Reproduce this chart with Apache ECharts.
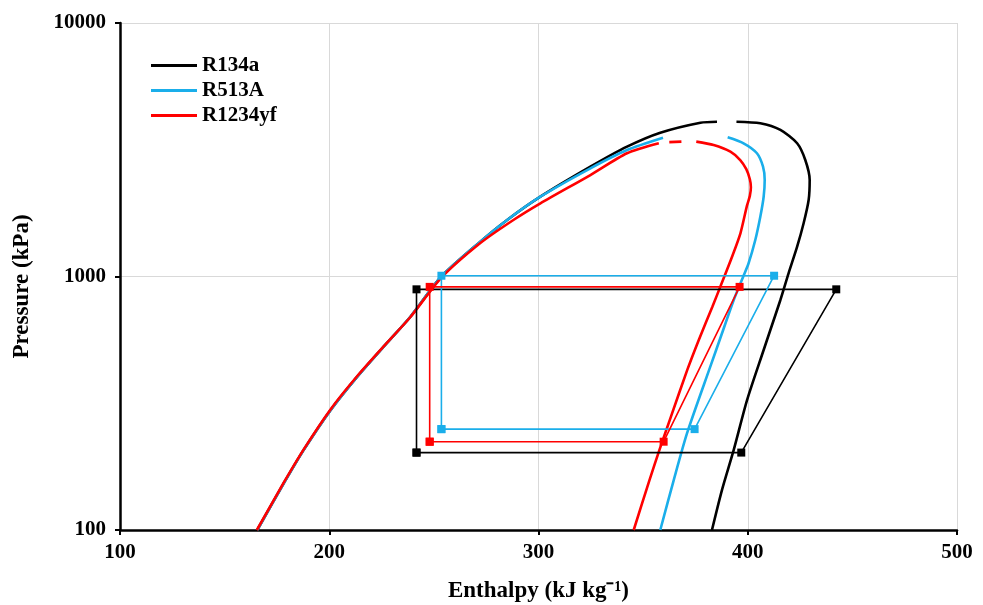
<!DOCTYPE html>
<html>
<head>
<meta charset="utf-8">
<script src="https://cdn.jsdelivr.net/npm/echarts@6/dist/echarts.min.js"></script>
<style>
html, body { margin: 0; padding: 0; background: #fff; }
#chart { width: 983px; height: 605px; }
</style>
</head>
<body>
<div id="chart"></div>
<script>
// saturation lines, [enthalpy kJ/kg, pressure kPa]
var r134aLiquid = [[165.6,100],[178.3,153],[187.8,207],[200.6,297],[213.3,402],[226,529],[238.8,694],[253.6,1000],[272.2,1372],[285,1671],[300.9,2065],[324.8,2711],[342.3,3252],[358.2,3692],[377.4,4044],[385.3,4080]];
var r134aVapour = [[394.6,4080],[406.0,4021],[415.6,3785],[423.6,3354],[427.5,2882],[429.6,2403],[429.1,2003],[426.7,1622],[423.6,1311],[419.5,1029],[415.6,808],[410.8,615],[407.6,513],[399.7,326],[393.3,207],[387.7,144],[382.9,100]];

var r513aLiquid = [[165.6,100],[178.3,153],[187.8,207],[200.6,297],[213.3,402],[226,529],[238.8,694],[253.6,1000],[272.2,1372],[285,1671],[300.9,2065],[324.8,2672],[342.3,3155],[359.5,3528]];
var r513aVapour = [[390.4,3540],[398.0,3354],[404.4,3063],[407.3,2711],[408.1,2403],[407.6,2064],[406.0,1721],[403.6,1393],[400.4,1128],[398.0,1007],[393.3,808],[387.7,597],[382.1,441],[371.0,241],[364.6,157],[358.2,100]];

var r1234yfLiquid = [[165.4,100],[178.3,154],[187.8,208],[200.6,299],[213.3,404],[226,530],[238.8,692],[253.6,990],[272.2,1355],[288,1671],[300.9,1944],[324.8,2514],[342.3,3063],[357.5,3354],'-',[362.5,3390],[368.3,3404]];
var r1234yfVapour = [[375.4,3404],[383.7,3301],[391.7,3107],[396.4,2880],[399.3,2650],[401.0,2420],[401.5,2250],[401.0,2080],[399.6,1900],[396.5,1481],[392.5,1197],[387.4,934],[383.1,760],[376.6,562],[371.1,428],[363.3,280],[357.8,207],[353.0,157],[345.5,100]];

// refrigeration cycles
var r134aCycle = [[241.7,202],[396.9,202],[442.3,890],[241.7,890],[241.7,202]];
var r513aCycle = [[253.6,250],[374.6,250],[412.6,1007],[253.6,1007],[253.6,250]];
var r1234yfCycle = [[248,223],[359.8,223],[396.1,910],[248,910],[248,223]];

var names = ['R134a', 'R513A', 'R1234yf'];
var colors = ['#000000', '#1aaeea', '#ff0000'];
var xTicks = [100, 500, 100]; // min, max, interval
var yTicks = [100, 10000];

var font = "'Liberation Serif', 'Times New Roman', serif";
var chart = echarts.init(document.getElementById('chart'));

function satLine(name, data, color) {
    return {
        name: name,
        type: 'line',
        data: data,
        symbol: 'none',
        smooth: 0.25,
        connectNulls: false,
        lineStyle: { color: color, width: 2.6 },
        itemStyle: { color: color },
        z: 2
    };
}

function cycleLine(name, data, color) {
    return {
        name: name + ' cycle',
        type: 'line',
        data: data,
        symbol: 'rect',
        symbolSize: 8,
        lineStyle: { color: color, width: 1.6 },
        itemStyle: { color: color },
        z: 3
    };
}

var series = [
    satLine(names[0], r134aLiquid, colors[0]),
    satLine(names[0], r134aVapour, colors[0]),
    satLine(names[1], r513aLiquid, colors[1]),
    satLine(names[1], r513aVapour, colors[1]),
    satLine(names[2], r1234yfLiquid, colors[2]),
    satLine(names[2], r1234yfVapour, colors[2]),
    cycleLine(names[0], r134aCycle, colors[0]),
    cycleLine(names[1], r513aCycle, colors[1]),
    cycleLine(names[2], r1234yfCycle, colors[2])
];

var option = {
    animation: false,
    backgroundColor: '#fff',
    grid: { left: 120, right: 26, top: 23, bottom: 75, outerBoundsMode: 'none', containLabel: false },
    legend: {
        data: names,
        orient: 'vertical',
        left: 146,
        top: 50,
        icon: 'rect',
        itemWidth: 46,
        itemHeight: 3,
        itemGap: 4,
        textStyle: { fontFamily: font, fontWeight: 'bold', fontSize: 21, color: '#000' }
    },
    xAxis: {
        type: 'value',
        min: xTicks[0],
        max: xTicks[1],
        interval: xTicks[2],
        name: 'Enthalpy (kJ kg⁻¹)',
        nameLocation: 'middle',
        nameGap: 50,
        nameTextStyle: { fontFamily: font, fontWeight: 'bold', fontSize: 23, color: '#000' },
        axisLine: { lineStyle: { color: '#000', width: 2.5 } },
        axisTick: { show: true, length: 5, lineStyle: { color: '#000', width: 2 } },
        axisLabel: { margin: 12, fontFamily: font, fontWeight: 'bold', fontSize: 21, color: '#000' },
        splitLine: { show: true, lineStyle: { color: '#d9d9d9', width: 1 } }
    },
    yAxis: {
        type: 'log',
        logBase: 10,
        min: yTicks[0],
        max: yTicks[1],
        name: 'Pressure (kPa)',
        nameLocation: 'middle',
        nameGap: 86,
        nameTextStyle: { fontFamily: font, fontWeight: 'bold', fontSize: 23, color: '#000', padding: [0, 20, 0, 0] },
        axisLine: { show: true, lineStyle: { color: '#000', width: 2.5 } },
        axisTick: { show: true, length: 5, lineStyle: { color: '#000', width: 2 } },
        minorTick: { show: false },
        axisLabel: {
            margin: 14, fontFamily: font, fontWeight: 'bold', fontSize: 21, color: '#000',
            formatter: function (v) { return String(Math.round(v)); }
        },
        splitLine: { show: true, lineStyle: { color: '#d9d9d9', width: 1 } }
    },
    series: series
};

chart.setOption(option);
</script>
</body>
</html>
